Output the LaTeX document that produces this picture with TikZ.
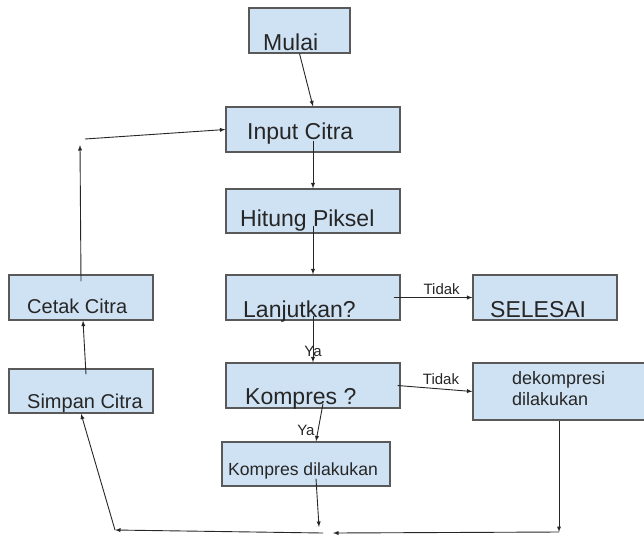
\documentclass[tikz,border=0pt]{standalone}
\usepackage{fontspec}
\setmainfont{Liberation Sans}
\usepackage{tikz}
\usetikzlibrary{arrows}
\definecolor{boxfill}{HTML}{CFE2F3}
\definecolor{boxline}{HTML}{595959}
\definecolor{ink}{HTML}{262626}
\begin{document}
\begin{tikzpicture}[x=1pt,y=-1pt,
  box/.style={draw=boxline,fill=boxfill,line width=1.2pt,inner sep=0pt},
  txt/.style={anchor=base west,inner sep=0pt,text=ink},
  bigtxt/.style={txt,font=\fontsize{23}{27}\selectfont},
  midtxt/.style={txt,font=\fontsize{20}{24}\selectfont},
  lbl/.style={inner sep=0pt,text=ink,font=\fontsize{15}{18}\selectfont},
  arr/.style={->,>=latex,draw=ink,line width=0.9pt}]
\useasboundingbox (0,0) rectangle (644,536);
\node[box,minimum width=101pt,minimum height=45pt] (mulai) at (299.5,30.5) {};
\node[box,minimum width=174pt,minimum height=45pt] (input) at (313,129.5) {};
\node[box,minimum width=174pt,minimum height=44pt] (hitung) at (313,211) {};
\node[box,minimum width=174pt,minimum height=45pt] (lanjut) at (313,297.5) {};
\node[box,minimum width=144pt,minimum height=45pt] (selesai) at (545,297.5) {};
\node[box,minimum width=174pt,minimum height=45pt] (kompres) at (313,385.5) {};
\node[box,minimum width=172pt,minimum height=57pt] (dekomp) at (559,391.5) {};
\node[box,minimum width=168pt,minimum height=44pt] (kompresd) at (306,464) {};
\node[box,minimum width=144pt,minimum height=45pt] (cetak) at (81,297.5) {};
\node[box,minimum width=144pt,minimum height=44pt] (simpan) at (81,391) {};
\node[bigtxt] (mulai-t) at (263,50) {Mulai};
\node[bigtxt] (input-t) at (247,139) {Input Citra};
\node[bigtxt] (hitung-t) at (240,226) {Hitung Piksel};
\node[bigtxt] (lanjut-t) at (243,317) {Lanjutkan?};
\node[bigtxt] (selesai-t) at (490,317) {SELESAI};
\node[bigtxt] (kompres-t) at (245,404) {Kompres ?};
\node[txt,anchor=north west,align=left,font=\fontsize{18}{21.5}\selectfont] (dekomp-t) at (512,371) {dekompresi\\dilakukan};
\node[txt,font=\fontsize{17.6}{21}\selectfont] (kompresd-t) at (228,475) {Kompres dilakukan};
\node[midtxt] (cetak-t) at (27,313) {Cetak Citra};
\node[midtxt] (simpan-t) at (27,408) {Simpan Citra};
\coordinate (kd-end) at (319,527);
\coordinate (bot-r) at (559,532);
\coordinate (bot-m1) at (333,533);
\coordinate (bot-m2) at (323,533);
\coordinate (bot-l) at (115,530);
\coordinate (up-end) at (80,145);
\coordinate (up-start) at (85,139);
\draw[arr] (mulai.south) -- (input.north);
\draw[arr] ([yshift=12pt]input.south) -- (hitung.north);
\draw[arr] ([yshift=8pt]hitung.south) -- (lanjut.north);
\draw[arr] ([yshift=5pt]lanjut.south) -- node[lbl,pos=0.77] (ya1) {Ya} (kompres.north);
\draw[arr] ([xshift=-7pt]lanjut.east) -- node[lbl,pos=0.61,above=2pt] (tidak1) {Tidak} (selesai.west);
\draw[arr] ([xshift=-3pt]kompres.east) -- node[lbl,pos=0.58,above=4pt] (tidak2) {Tidak} (dekomp.west);
\draw[arr] ([xshift=10pt,yshift=5pt]kompres.south) -- node[lbl,pos=0.72,xshift=-12pt] (ya2) {Ya} ([xshift=10pt]kompresd.north);
\draw[arr] ([xshift=10pt,yshift=8pt]kompresd.south) -- (kd-end);
\draw[arr] (dekomp.south) -- (bot-r);
\draw[arr] (bot-r) -- (bot-m1);
\draw[arr] (bot-m2) -- (bot-l);
\draw[arr] (bot-l) -- (simpan.south);
\draw[arr] ([xshift=5pt,yshift=-6pt]simpan.north) -- ([xshift=2pt]cetak.south);
\draw[arr] ([yshift=-7pt]cetak.north) -- (up-end);
\draw[arr] (up-start) -- (input.west);
\end{tikzpicture}
\end{document}
